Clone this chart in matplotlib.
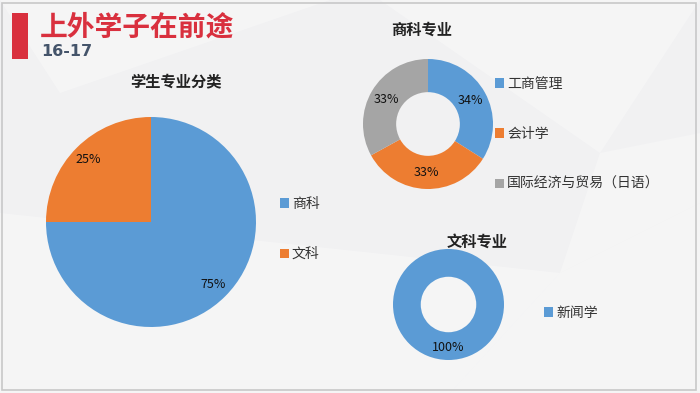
import matplotlib
matplotlib.use('Agg')
import matplotlib.pyplot as plt
from matplotlib.patches import Rectangle, Polygon

plt.rcParams['font.family'] = ['Noto Sans CJK SC', 'DejaVu Sans']

# data
main_labels = ['商科', '文科']
main_values = [75, 25]

biz_labels = ['工商管理', '会计学', '国际经济与贸易（日语）']
biz_values = [34, 33, 33]

arts_labels = ['新闻学']
arts_values = [100]

blue, orange, grey = '#5B9BD5', '#ED7D31', '#A5A5A5'

W, H = 700, 393
fig = plt.figure(figsize=(7, 3.93), dpi=100)
fig.patch.set_facecolor('#f1f1f2')

def px_axes(x0, y0, x1, y1):
    # pixel box (top-left origin) -> figure axes
    return fig.add_axes([x0 / W, 1 - y1 / H, (x1 - x0) / W, (y1 - y0) / H])

# faint background shapes
bg = [
    ([0, 0], [0, 180], [560, 120], [450, 0]),
    ([450, 0], [700, 0], [700, 190], [560, 120]),
    ([0, 393], [60, 300], [330, 393]),
    ([560, 120], [700, 190], [700, 260], [600, 240]),
    ([380, 393], [600, 240], [700, 393]),
]
for pts in bg:
    fig.patches.append(Polygon(pts, closed=True, transform=None, facecolor='white',
                               alpha=0.3, edgecolor='none', zorder=-5))

# frame
fig.patches.append(Rectangle((2 / W, 3 / H), 694 / W, 387 / H, transform=fig.transFigure,
                             fill=False, edgecolor='#c8c8c8', linewidth=1.2))

# header
fig.patches.append(Rectangle((12 / W, 1 - 59 / H), 16 / W, 46 / H, transform=fig.transFigure,
                             facecolor='#D9303E', edgecolor='none'))
fig.text(40 / W, 1 - 27 / H, '上外学子在前途', fontsize=20, fontweight='bold',
         color='#D9303E', va='center', ha='left')
fig.text(41 / W, 1 - 51 / H, '16-17', fontsize=11.5, fontweight='bold',
         family='DejaVu Sans', color='#44546A', va='center', ha='left')

leg_kw = dict(frameon=False, fontsize=10, handlelength=0.65, handleheight=0.65,
              handletextpad=0.25, labelspacing=2.6, labelcolor='#333333',
              bbox_transform=fig.transFigure, loc='center left')

# main pie
ax1 = px_axes(46, 117, 256, 327)
ax1.pie(main_values, colors=[blue, orange], startangle=90, counterclock=False,
        autopct='%d%%', pctdistance=0.84, wedgeprops=dict(edgecolor='none'),
        textprops=dict(fontsize=9, color='#111111'))
ax1.set_xlim(-1, 1)
ax1.set_ylim(-1, 1)
ax1.set_aspect('equal')
fig.text(176 / W, 1 - 82 / H, '学生专业分类', fontsize=11, fontweight='bold',
         ha='center', va='center', color='#222222')
ax1.legend(ax1.patches, main_labels, bbox_to_anchor=(267 / W, 1 - 229 / H), **leg_kw)

# business donut
ax2 = px_axes(363, 59, 493, 189)
ax2.pie(biz_values, colors=[blue, orange, grey], startangle=90, counterclock=False,
        autopct='%d%%', pctdistance=0.75,
        wedgeprops=dict(width=0.51, edgecolor='none'),
        textprops=dict(fontsize=9, color='#111111'))
ax2.set_xlim(-1, 1)
ax2.set_ylim(-1, 1)
ax2.set_aspect('equal')
fig.text(422 / W, 1 - 30 / H, '商科专业', fontsize=11, fontweight='bold',
         ha='center', va='center', color='#222222')
ax2.legend(ax2.patches, biz_labels, bbox_to_anchor=(482 / W, 1 - 134 / H), **leg_kw)

# arts donut
ax3 = px_axes(393, 249, 504, 360)
ax3.pie(arts_values, colors=[blue], startangle=90, counterclock=False,
        autopct='%d%%', pctdistance=0.78,
        wedgeprops=dict(width=0.5, edgecolor='none'),
        textprops=dict(fontsize=9, color='#111111'))
ax3.set_xlim(-1, 1)
ax3.set_ylim(-1, 1)
ax3.set_aspect('equal')
fig.text(477 / W, 1 - 242 / H, '文科专业', fontsize=11, fontweight='bold',
         ha='center', va='center', color='#222222')
ax3.legend(ax3.patches, arts_labels, bbox_to_anchor=(531 / W, 1 - 313 / H), **leg_kw)

fig.savefig('out.png', dpi=100, facecolor=fig.get_facecolor())
